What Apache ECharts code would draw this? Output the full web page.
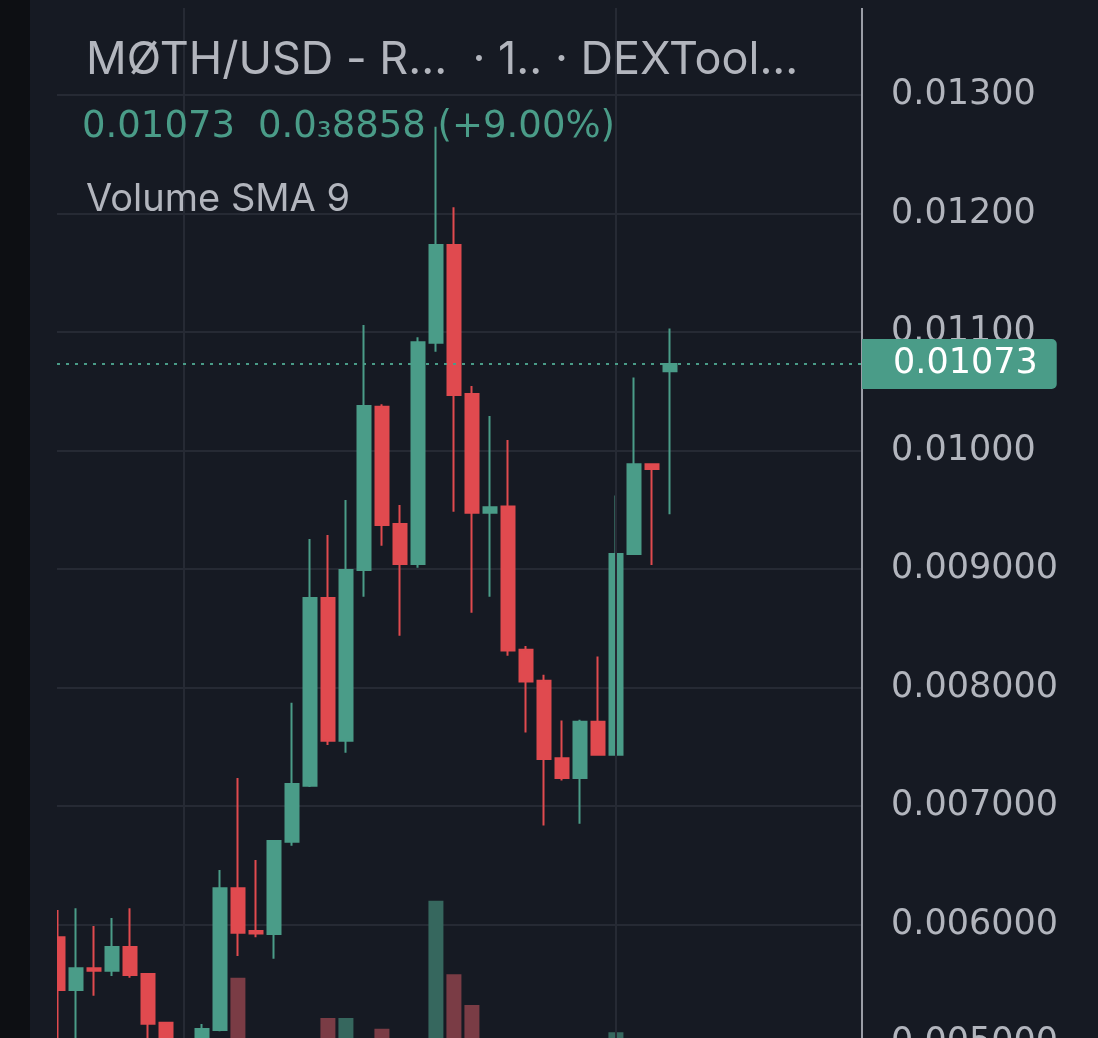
<!DOCTYPE html>
<html>
<head>
<meta charset="utf-8">
<script src="https://cdn.jsdelivr.net/npm/echarts@6/dist/echarts.min.js"></script>
<style>
html,body{margin:0;padding:0;background:#161a23;}
#c{width:1098px;height:1038px;}
</style>
</head>
<body>
<div id="c"></div>
<script>
// ---- Data ----
const opens  = [0.005892,0.005447,0.005630,0.005610,0.005810,0.005582,0.005171,0.004900,0.004850,0.005110,
                0.006305,0.005945,0.005920,0.006699,0.007171,0.008755,0.007551,0.008992,0.010370,0.009380,
                0.009042,0.010910,0.011734,0.010477,0.009475,0.009528,0.008318,0.008057,0.007402,0.007237,
                0.007711,0.007432,0.009126,0.009883,0.010669];
const closes = [0.005447,0.005630,0.005610,0.005810,0.005574,0.005163,0.004900,0.004850,0.005118,0.006305,
                0.005931,0.005925,0.006705,0.007186,0.008755,0.007551,0.008992,0.010376,0.009371,0.009042,
                0.010913,0.011734,0.010468,0.009475,0.009521,0.008312,0.008051,0.007397,0.007237,0.007711,
                0.007432,0.009126,0.009883,0.009844,0.010730];
const lows   = [0.004900,0.004900,0.005399,0.005565,0.005551,0.004950,0.004800,0.004750,0.004800,0.005100,
                0.005734,0.005892,0.005711,0.006665,0.007160,0.007515,0.007450,0.008766,0.009197,0.008437,
                0.009011,0.010834,0.009484,0.008631,0.008766,0.008267,0.007621,0.006835,0.007216,0.006850,
                0.007430,0.007430,0.009120,0.009033,0.009462];
const highs  = [0.006122,0.006137,0.005987,0.006055,0.006137,0.005582,0.005171,0.004950,0.005160,0.006460,
                0.007236,0.006544,0.006710,0.007872,0.009253,0.009287,0.009582,0.011059,0.010390,0.009540,
                0.010955,0.012733,0.012052,0.010544,0.010291,0.010089,0.008351,0.008108,0.007721,0.007727,
                0.008261,0.009621,0.010615,0.009883,0.011030];
const volumes = [60,45,30,40,55,70,50,35,60,95,
                 155,40,80,85,90,121,121,90,112,70,
                 95,220,158,132,60,80,50,70,40,45,
                 50,109,85,40,60];
const dayLines = [7, 31];
const lastPrice = 0.01073;
const titleText = 'MØTH/USD - R...  · 1.. · DEXTool...';
const quotePrice = '0.01073';
const quoteChange = '0.0\u20838858 (+9.00%)';
const indicatorText = 'Volume SMA 9';

// ---- Styles ----
const UP = '#4a9c88', DOWN = '#e04a4f';
const VOL_UP = '#36675e', VOL_DOWN = '#7a3c45';
const BG = '#161a23', GRID = '#262a34', TEXT = '#b2b5bd';
const NUM_FONT = 'DejaVu Sans';

const idx = opens.map((_, i) => i);
const candleData = idx.map(i => [i, opens[i], closes[i], lows[i], highs[i]]);
const volData = idx.map(i => ({
  value: [i, volumes[i]],
  itemStyle: { color: closes[i] >= opens[i] ? VOL_UP : VOL_DOWN }
}));

const chart = echarts.init(document.getElementById('c'), null, {renderer: 'canvas'});
chart.setOption({
  backgroundColor: BG,
  animation: false,
  grid: { left: 57, right: 236, top: -23.5, bottom: -123.5, outerBoundsMode: 'none', containLabel: false },
  xAxis: {
    type: 'value', min: -0.05, max: 44.67,
    axisLine: {show: false}, axisTick: {show: false},
    axisLabel: {show: false}, splitLine: {show: false}
  },
  yAxis: [
    {
      type: 'value', position: 'right', min: 0.004, max: 0.014, interval: 0.001,
      axisLine: {show: true, onZero: false, lineStyle: {color: '#9a9da6', width: 2}},
      axisTick: {show: false},
      axisLabel: {
        margin: 29, color: TEXT, fontFamily: NUM_FONT, fontSize: 35,
        formatter: v => v >= 0.0095 ? v.toFixed(5) : v.toFixed(6)
      },
      splitLine: {lineStyle: {color: GRID, width: 2}}
    },
    {
      type: 'value', position: 'left', min: 0, max: 1000,
      axisLine: {show: false, onZero: false}, axisTick: {show: false},
      axisLabel: {show: false}, splitLine: {show: false}
    }
  ],
  series: [
    {
      type: 'bar', yAxisIndex: 1, z: 1, barWidth: 15,
      data: volData,
      markLine: {
        symbol: 'none', silent: true, label: {show: false},
        lineStyle: {color: GRID, width: 2, type: 'solid'},
        data: dayLines.map(x => ({xAxis: x}))
      }
    },
    {
      type: 'candlestick', z: 2, barWidth: 13,
      dimensions: ['x', 'open', 'close', 'low', 'high'],
      encode: {x: 0, y: [1, 2, 3, 4]},
      data: candleData,
      itemStyle: { color: UP, color0: DOWN, borderColor: UP, borderColor0: DOWN, borderWidth: 2 },
      markLine: {
        symbol: 'none', silent: true, z: 10, precision: 6,
        lineStyle: {color: UP, width: 2, type: [3, 6]},
        label: {
          position: 'end', distance: 0,
          formatter: () => lastPrice.toFixed(5),
          backgroundColor: UP, color: '#ffffff',
          fontFamily: NUM_FONT, fontSize: 35, lineHeight: 36,
          padding: [7, 19, 7, 31], borderRadius: [0, 5, 5, 0]
        },
        data: [{yAxis: lastPrice}]
      }
    }
  ],
  graphic: [
    {type: 'rect', z: 100, shape: {x: 0, y: 0, width: 30, height: 1038}, style: {fill: '#0d0f13'}},
    {type: 'rect', z: 100, shape: {x: 30, y: 0, width: 27, height: 1038}, style: {fill: BG}},
    {type: 'rect', z: 100, shape: {x: 30, y: 0, width: 840, height: 8}, style: {fill: BG}},
    {type: 'text', z: 101, x: 86, y: 60, style: {text: titleText, fill: TEXT, font: '45px Inter', verticalAlign: 'middle'}},
    {type: 'text', z: 101, x: 82, y: 127, style: {text: quotePrice, fill: UP, font: '37px "DejaVu Sans"', verticalAlign: 'middle'}},
    {type: 'text', z: 101, x: 258, y: 127, style: {text: quoteChange, fill: UP, font: '37px "DejaVu Sans"', verticalAlign: 'middle'}},
    {type: 'text', z: 101, x: 86, y: 200, style: {text: indicatorText, fill: TEXT, font: '38px Inter', verticalAlign: 'middle'}}
  ]
});
</script>
</body>
</html>
